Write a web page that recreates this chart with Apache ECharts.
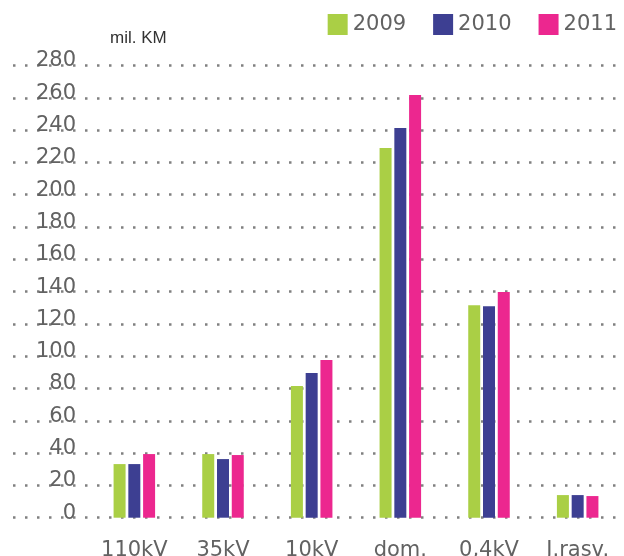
<!DOCTYPE html>
<html>
<head>
<meta charset="utf-8">
<script src="https://cdn.jsdelivr.net/npm/echarts@6/dist/echarts.min.js"></script>
<style>
  html, body { margin: 0; padding: 0; background: #fff; }
  #chart { width: 624px; height: 556px; }
</style>
</head>
<body>
<div id="chart"></div>
<script>
// categories and values (mil. KM)
const categories = ['110kV', '35kV', '10kV', 'dom.', '0,4kV', 'J.rasv.'];
const years = ['2009', '2010', '2011'];
const values2009 = [33.2, 39.4, 81.5, 228.9, 131.6, 14.0];
const values2010 = [33.2, 36.3, 89.6, 241.3, 131.0, 14.0];
const values2011 = [39.4, 38.8, 97.7, 261.7, 139.7, 13.4];
const colors = ['#aacf45', '#3d3f92', '#ec278f'];

const tickFont = 'DejaVu Sans';
const textGray = '#626262';

let myChart = echarts.init(document.getElementById('chart'));

function barSeries(name, data, color) {
    return {
        name: name,
        type: 'bar',
        xAxisIndex: 1,
        yAxisIndex: 1,
        data: data,
        barWidth: 12,
        barGap: '23%',
        itemStyle: { color: color },
        emphasis: { disabled: true }
    };
}

const option = {
    animation: false,
    title: {
        text: 'mil. KM',
        left: 110,
        top: 30,
        padding: 0,
        textStyle: {
            fontFamily: 'Liberation Sans',
            fontSize: 17,
            fontWeight: 'normal',
            color: '#333'
        }
    },
    legend: {
        data: years,
        right: 7,
        top: 14,
        padding: 0,
        icon: 'rect',
        itemWidth: 20,
        itemHeight: 21,
        itemGap: 27,
        textStyle: {
            fontFamily: tickFont,
            fontSize: 21,
            color: textGray
        }
    },
    grid: [
        // wide grid: only the dotted lines
        { left: 13, right: 7, top: 65.5, bottom: 38.3, outerBoundsMode: 'none' },
        // bars
        { left: 90, right: 2, top: 65.5, bottom: 38.3, outerBoundsMode: 'none' }
    ],
    xAxis: [
        { type: 'value', gridIndex: 0, min: 0, max: 1, show: false },
        {
            type: 'category',
            gridIndex: 1,
            data: categories,
            axisLine: { show: false },
            axisTick: { show: false },
            axisLabel: {
                margin: 22,
                fontFamily: tickFont,
                fontSize: 21,
                color: textGray
            }
        }
    ],
    yAxis: [
        {
            type: 'value',
            gridIndex: 0,
            min: 0,
            max: 280,
            interval: 20,
            axisLine: { show: false },
            axisTick: { show: false },
            axisLabel: { show: false },
            splitLine: {
                lineStyle: {
                    color: '#808080',
                    width: 2.5,
                    type: [2.5, 9.5]
                }
            }
        },
        {
            type: 'value',
            gridIndex: 1,
            min: 0,
            max: 280,
            interval: 20,
            axisLine: { show: false },
            axisTick: { show: false },
            splitLine: { show: false },
            axisLabel: {
                margin: 14,
                fontFamily: tickFont,
                fontSize: 21,
                color: textGray,
                verticalAlign: 'bottom',
                lineHeight: 9
            }
        }
    ],
    series: [
        barSeries(years[0], values2009, colors[0]),
        barSeries(years[1], values2010, colors[1]),
        barSeries(years[2], values2011, colors[2])
    ]
};

myChart.setOption(option);
</script>
</body>
</html>
